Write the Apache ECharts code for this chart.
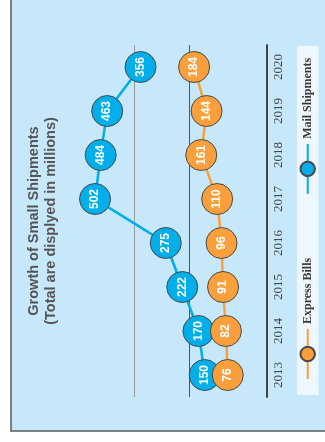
<!DOCTYPE html>
<html>
<head>
<meta charset="utf-8">
<script src="https://cdn.jsdelivr.net/npm/echarts@6/dist/echarts.min.js"></script>
<style>
  html, body { margin: 0; padding: 0; background: #fff; overflow: hidden; }
  #stage { width: 325px; height: 442px; position: relative; }
  /* chart is laid out in reading orientation, then turned 90deg ccw */
  #chart {
    position: absolute; left: 0; top: 442px;
    width: 442px; height: 325px;
    transform-origin: 0 0; transform: rotate(-90deg);
  }
</style>
</head>
<body>
<div id="stage"><div id="chart"></div></div>
<script>
const years    = ['2013', '2014', '2015', '2016', '2017', '2018', '2019', '2020']
const express  = [76, 82, 91, 96, 110, 161, 144, 184]
const mail     = [150, 170, 222, 275, 502, 484, 463, 356]
const guides   = [200, 375]
const titleTxt = 'Growth of Small Shipments\n(Total are displyed in millions)'

const blue = '#00aeea', orange = '#f9a03c'

const chart = echarts.init(document.getElementById('chart'))

const dot = (color) => ({
  type: 'line',
  symbol: 'circle',
  symbolSize: 31,
  lineStyle: { color, width: 2.5 },
  itemStyle: { color, borderColor: '#4a4a4a', borderWidth: 1 },
  label: {
    show: true,
    position: 'inside',
    color: '#fff',
    fontFamily: 'Liberation Sans, Arial, sans-serif',
    fontWeight: 'bold',
    fontSize: 12,
  },
  emphasis: { disabled: true },
})

chart.setOption({
  animation: false,
  graphic: [{
    type: 'rect',
    z: -10,
    shape: { x: 11, y: 11, width: 460, height: 340 },
    style: { fill: '#c6e8fa', stroke: '#5a5a5a', lineWidth: 1.5 },
  }],
  title: {
    text: titleTxt,
    left: 'center',
    top: 20,
    textStyle: {
      fontFamily: 'Liberation Sans, Arial, sans-serif',
      fontSize: 14.5,
      fontWeight: 'bold',
      lineHeight: 17,
      color: '#555',
    },
  },
  legend: {
    data: ['Express Bills', 'Mail Shipments'],
    left: 47,
    top: 297,
    backgroundColor: '#eef7fd',
    padding: [2.5, 12, 2.5, 15],
    itemWidth: 50,
    itemHeight: 18,
    itemGap: 63,
    textStyle: {
      fontFamily: 'Liberation Serif, Times New Roman, serif',
      fontWeight: 'bold',
      fontSize: 12,
      color: '#3a3a3a',
    },
  },
  grid: { left: 45, width: 352, top: 64.5, height: 202.5 },
  xAxis: {
    type: 'category',
    data: years,
    boundaryGap: true,
    axisLine: { onZero: false, lineStyle: { color: '#444', width: 2 } },
    axisTick: { show: false },
    axisLabel: {
      margin: 5,
      fontFamily: 'Liberation Serif, Times New Roman, serif',
      fontSize: 13,
      color: '#444',
    },
  },
  yAxis: {
    type: 'value',
    min: -50,
    max: 600,
    show: false,
  },
  series: [
    {
      ...dot(blue),
      name: 'Mail Shipments',
      data: mail,
      z: 2,
      markLine: {
        z: 1,
        silent: true,
        symbol: 'none',
        label: { show: false },
        emphasis: { disabled: true },
        data: [
          { yAxis: guides[0], lineStyle: { color: '#555555', width: 1, type: 'solid' } },
          { yAxis: guides[1], lineStyle: { color: '#999999', width: 1, type: 'solid' } },
        ],
      },
    },
    {
      ...dot(orange),
      name: 'Express Bills',
      data: express,
      z: 3,
    },
  ],
})
</script>
</body>
</html>
